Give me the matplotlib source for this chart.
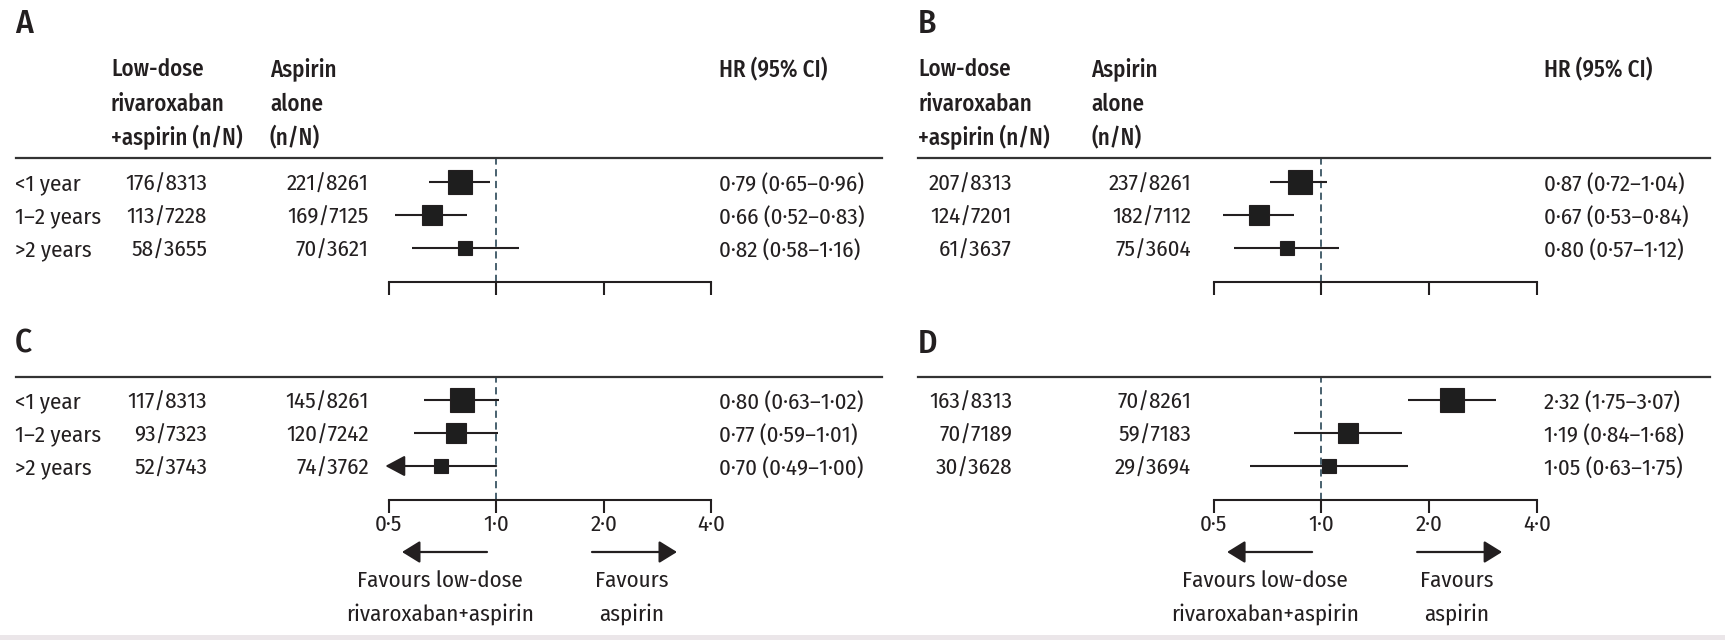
import matplotlib
matplotlib.use("Agg")
import matplotlib.pyplot as plt
import matplotlib.transforms as mtransforms
from matplotlib.lines import Line2D
from matplotlib.patches import Rectangle
from matplotlib.ticker import FixedLocator, NullLocator

W, H = 1725, 640
plt.rcParams['font.family'] = ['Fira Sans Condensed', 'DejaVu Sans']
INK = '#231f20'
FS = 16.5

# data
periods = ["<1 year", "1\u20132 years", ">2 years"]
header_riv = ["Low-dose", "rivaroxaban", "+aspirin (n/N)"]
header_asp = ["Aspirin", "alone", "(n/N)"]
hr_ticks = [0.5, 1.0, 2.0, 4.0]
hr_tick_labels = ["0\u00b75", "1\u00b70", "2\u00b70", "4\u00b70"]

riv_A = ["176/8313", "113/7228", "58/3655"]
asp_A = ["221/8261", "169/7125", "70/3621"]
hr_A = [0.79, 0.66, 0.82]
lo_A = [0.65, 0.52, 0.58]
hi_A = [0.96, 0.83, 1.16]

riv_B = ["207/8313", "124/7201", "61/3637"]
asp_B = ["237/8261", "182/7112", "75/3604"]
hr_B = [0.87, 0.67, 0.80]
lo_B = [0.72, 0.53, 0.57]
hi_B = [1.04, 0.84, 1.12]

riv_C = ["117/8313", "93/7323", "52/3743"]
asp_C = ["145/8261", "120/7242", "74/3762"]
hr_C = [0.80, 0.77, 0.70]
lo_C = [0.63, 0.59, 0.49]
hi_C = [1.02, 1.01, 1.00]

riv_D = ["163/8313", "70/7189", "30/3628"]
asp_D = ["70/8261", "59/7183", "29/3694"]
hr_D = [2.32, 1.19, 1.05]
lo_D = [1.75, 0.84, 0.63]
hi_D = [3.07, 1.68, 1.75]

# layout (pixels)
cols_left = dict(letter=15, period=15, head1=111, head2=270, col1=207, col2=369,
                 ax_l=388.5, ax_r=711.5, hr=719, rule=(16, 882))
cols_right = dict(letter=918, period=None, head1=918, head2=1091, col1=1012, col2=1191,
                  ax_l=1213.6, ax_r=1537, hr=1544, rule=(918, 1710))
rows_top = dict(letter=24, heads=[67, 102, 135], rule=158, row0=182, axis=282, bottom_labels=False)
rows_bot = dict(letter=344, heads=None, rule=377, row0=400, axis=500, bottom_labels=True)
ROW_STEP = 33.0
marker_px = [24, 20, 14.5]


def fx(x):
    return x / W


def fy(y):
    return 1 - y / H


def fmt(v):
    return f"{v:.2f}".replace(".", "\u00b7")


fig = plt.figure(figsize=(W / 100, H / 100), dpi=100)
fig.patch.set_facecolor("white")

panels = [
    ("A", cols_left, rows_top, riv_A, asp_A, hr_A, lo_A, hi_A),
    ("B", cols_right, rows_top, riv_B, asp_B, hr_B, lo_B, hi_B),
    ("C", cols_left, rows_bot, riv_C, asp_C, hr_C, lo_C, hi_C),
    ("D", cols_right, rows_bot, riv_D, asp_D, hr_D, lo_D, hi_D),
]

for letter, cx, ry, riv, asp, hr, lo, hi in panels:
    ax = fig.add_axes([fx(cx["ax_l"]), fy(ry["axis"]),
                       (cx["ax_r"] - cx["ax_l"]) / W, (ry["axis"] - ry["rule"]) / H])
    ax.set_xscale("log", base=2)
    ax.set_xlim(hr_ticks[0], hr_ticks[-1])
    n = len(hr)
    top = -(ry["row0"] - ry["rule"]) / ROW_STEP
    bottom = (n - 1) + (ry["axis"] - (ry["row0"] + (n - 1) * ROW_STEP)) / ROW_STEP
    ax.set_ylim(bottom, top)
    ax.patch.set_alpha(0)
    for s in ["top", "left", "right"]:
        ax.spines[s].set_visible(False)
    ax.spines["bottom"].set_linewidth(1.5)
    ax.spines["bottom"].set_color(INK)
    ax.set_yticks([])
    ax.xaxis.set_major_locator(FixedLocator(hr_ticks))
    ax.xaxis.set_minor_locator(NullLocator())
    ax.tick_params(axis="x", direction="out", length=9.5, width=1.5, color=INK,
                   labelsize=FS, labelcolor=INK, pad=1.0)
    if ry["bottom_labels"]:
        ax.set_xticklabels(hr_tick_labels)
    else:
        ax.set_xticklabels([])

    ax.axvline(1.0, color="#3a5563", lw=1.3, ls=(0, (4, 2.5)), zorder=1)

    xmin = hr_ticks[0]
    for i in range(n):
        if lo[i] < xmin:
            ax.annotate("", xy=(lo[i], i), xytext=(hi[i], i),
                        arrowprops=dict(arrowstyle="-|>,head_length=0.6,head_width=0.32",
                                        mutation_scale=20, lw=1.5, color=INK,
                                        shrinkA=0, shrinkB=0),
                        annotation_clip=False, zorder=2)
        else:
            ax.plot([lo[i], hi[i]], [i, i], color=INK, lw=1.5, solid_capstyle="butt",
                    zorder=2)
        ax.plot([hr[i]], [i], marker="s", ms=marker_px[i] * 0.72, color="#1e1e1e",
                mec=INK, mew=0.8, zorder=3, clip_on=False)

    # text columns
    trow = mtransforms.blended_transform_factory(fig.transFigure, ax.transData)
    for i in range(n):
        if cx["period"] is not None:
            fig.text(fx(cx["period"]), i, periods[i], transform=trow, ha="left",
                     va="center_baseline", fontsize=FS, color=INK)
        fig.text(fx(cx["col1"]), i, riv[i], transform=trow, ha="right",
                 va="center_baseline", fontsize=FS, color=INK)
        fig.text(fx(cx["col2"]), i, asp[i], transform=trow, ha="right",
                 va="center_baseline", fontsize=FS, color=INK)
        fig.text(fx(cx["hr"]), i, f"{fmt(hr[i])} ({fmt(lo[i])}\u2013{fmt(hi[i])})",
                 transform=trow, ha="left", va="center_baseline", fontsize=FS, color=INK)

    # panel letter
    fig.text(fx(cx["letter"]), fy(ry["letter"]), letter, ha="left", va="center",
             fontsize=24, color=INK, fontweight=500)

    # headers
    if ry["heads"] is not None:
        for y, t1, t2 in zip(ry["heads"], header_riv, header_asp):
            fig.text(fx(cx["head1"]), fy(y), t1, ha="left", va="center_baseline",
                     fontsize=FS, color=INK, fontweight=500)
            fig.text(fx(cx["head2"]), fy(y), t2, ha="left", va="center_baseline",
                     fontsize=FS, color=INK, fontweight=500)
        fig.text(fx(cx["hr"]), fy(ry["heads"][0]), "HR (95% CI)", ha="left",
                 va="center_baseline", fontsize=FS, color=INK, fontweight=500)

    # horizontal rule
    x0, x1 = cx["rule"]
    fig.add_artist(Line2D([fx(x0), fx(x1)], [fy(ry["rule"])] * 2, lw=1.6, color="#333333"))

    # favours arrows
    if ry["bottom_labels"]:
        tarr = mtransforms.blended_transform_factory(ax.transAxes, fig.transFigure)
        span = cx["ax_r"] - cx["ax_l"]
        for tail, tip in [(98.5, 13.5), (203.5, 288.5)]:
            ax.annotate("", xy=(tip / span, fy(552)), xytext=(tail / span, fy(552)),
                        xycoords=tarr, textcoords=tarr,
                        arrowprops=dict(arrowstyle="-|>,head_length=0.55,head_width=0.34",
                                        mutation_scale=20, lw=1.6, color=INK,
                                        shrinkA=0, shrinkB=0),
                        annotation_clip=False)
        for xc, lines in [(51.5, ["Favours low-dose", "rivaroxaban+aspirin"]),
                          (243.5, ["Favours", "aspirin"])]:
            for y, t in zip([579, 612], lines):
                ax.text(xc / span, fy(y), t, transform=tarr, ha="center",
                        va="center_baseline", fontsize=FS, color=INK)

# faint band at the bottom edge
fig.add_artist(Rectangle((0, 0), 1, 5 / H, transform=fig.transFigure,
                         facecolor="#ebe6e9", edgecolor="none"))

fig.savefig("out.png", dpi=100)
